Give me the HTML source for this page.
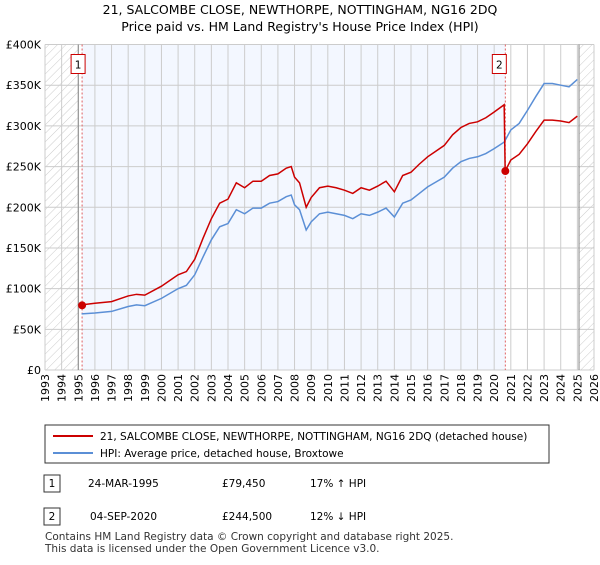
<!DOCTYPE html>
<html><head><meta charset="utf-8"><style>
body{margin:0;background:#fff;font-family:"Liberation Sans","DejaVu Sans",sans-serif;}
svg text{font-family:"DejaVu Sans","Liberation Sans",sans-serif;}
</style></head><body>
<svg width="600" height="560" viewBox="0 0 600 560">
<defs><pattern id="hatch" width="6" height="6" patternUnits="userSpaceOnUse" patternTransform="rotate(45)"><line x1="0" y1="0" x2="0" y2="6" stroke="#ccc" stroke-width="1"/></pattern></defs>
<text x="300" y="14" text-anchor="middle" font-size="12.5">21, SALCOMBE CLOSE, NEWTHORPE, NOTTINGHAM, NG16 2DQ</text>
<text x="300" y="31" text-anchor="middle" font-size="12.5">Price paid vs. HM Land Registry's House Price Index (HPI)</text>
<g id="plot"></g>
<g>
<rect x="45" y="425" width="504" height="38" fill="#fff" stroke="#333" stroke-width="1"/>
<line x1="53" y1="436" x2="93" y2="436" stroke="#cc0000" stroke-width="2"/>
<text x="100" y="440" font-size="10.5">21, SALCOMBE CLOSE, NEWTHORPE, NOTTINGHAM, NG16 2DQ (detached house)</text>
<line x1="53" y1="453" x2="93" y2="453" stroke="#5b8fd6" stroke-width="2"/>
<text x="100" y="457" font-size="10.5">HPI: Average price, detached house, Broxtowe</text>
</g>
<g>
<rect x="44" y="475" width="16" height="17" fill="#fff" stroke="#333"/>
<text x="52" y="487" text-anchor="middle" font-size="10.5">1</text>
<text x="88" y="487" font-size="10.5">24-MAR-1995</text>
<text x="222" y="487" font-size="10.5">£79,450</text>
<text x="310" y="487" font-size="10.5">17% ↑ HPI</text>
</g>
<g>
<rect x="44" y="508" width="16" height="17" fill="#fff" stroke="#333"/>
<text x="52" y="520" text-anchor="middle" font-size="10.5">2</text>
<text x="90" y="520" font-size="10.5">04-SEP-2020</text>
<text x="222" y="520" font-size="10.5">£244,500</text>
<text x="310" y="520" font-size="10.5">12% ↓ HPI</text>
</g>
<text x="45" y="540" font-size="10.5" fill="#333">Contains HM Land Registry data © Crown copyright and database right 2025.</text>
<text x="45" y="552" font-size="10.5" fill="#333">This data is licensed under the Open Government Licence v3.0.</text>
</svg>
<script>
const yearTicks=[1993,1994,1995,1996,1997,1998,1999,2000,2001,2002,2003,2004,2005,2006,2007,2008,2009,2010,2011,2012,2013,2014,2015,2016,2017,2018,2019,2020,2021,2022,2023,2024,2025,2026];
const valueTicks=[0,50,100,150,200,250,300,350,400];
const valueLabels=["£0","£50K","£100K","£150K","£200K","£250K","£300K","£350K","£400K"];
const hpiYears=[1995.2,1996,1997,1998,1998.5,1999,2000,2001,2001.5,2002,2002.5,2003,2003.5,2004,2004.5,2005,2005.5,2006,2006.5,2007,2007.5,2007.8,2008,2008.3,2008.7,2009,2009.5,2010,2010.5,2011,2011.5,2012,2012.5,2013,2013.5,2014,2014.5,2015,2015.5,2016,2016.5,2017,2017.5,2018,2018.5,2019,2019.5,2020,2020.6,2021,2021.5,2022,2022.5,2023,2023.5,2024,2024.5,2025];
const hpiValues=[69,70,72,78,80,79,88,100,104,117,139,160,176,180,197,192,199,199,205,207,213,215,203,197,172,182,192,194,192,190,186,192,190,194,199,188,205,209,217,225,231,237,248,256,260,262,266,272,280,295,303,319,336,352,352,350,348,357];
const priceYears=[1995.2,1996,1997,1998,1998.5,1999,2000,2001,2001.5,2002,2002.5,2003,2003.5,2004,2004.5,2005,2005.5,2006,2006.5,2007,2007.5,2007.8,2008,2008.3,2008.7,2009,2009.5,2010,2010.5,2011,2011.5,2012,2012.5,2013,2013.5,2014,2014.5,2015,2015.5,2016,2016.5,2017,2017.5,2018,2018.5,2019,2019.5,2020,2020.6,2020.66,2021,2021.5,2022,2022.5,2023,2023.5,2024,2024.5,2025];
const priceValues=[80,82,84,91,93,92,103,117,121,136,162,186,205,210,230,224,232,232,239,241,248,250,237,230,200,212,224,226,224,221,217,224,221,226,232,219,239,243,253,262,269,276,289,298,303,305,310,317,326,244.5,258,265,278,293,307,307,306,304,312];
const saleYears=[1995.23,2020.67];
const saleValues=[79.45,244.5];
const saleLabels=["1","2"];

const L=45,R=594,T=44.5,B=370,X0=1993,X1=2026,VMAX=400;
const xs=y=>L+(y-X0)/(X1-X0)*(R-L);
const ys=v=>B-v/VMAX*(B-T);
const NS="http://www.w3.org/2000/svg";
const g=document.getElementById('plot');
function mk(t,a){const e=document.createElementNS(NS,t);for(const k in a)e.setAttribute(k,a[k]);g.appendChild(e);return e;}
let e;
e=mk('rect',{x:L,y:T,width:R-L,height:B-T,fill:'#fff'});


e=mk('rect',{x:xs(saleYears[0]),y:T,width:xs(saleYears[1])-xs(saleYears[0]),height:B-T,fill:'#f3f7ff'});


e=mk('rect',{x:L,y:T,width:xs(1995)-L,height:B-T,fill:'url(#hatch)'});


e=mk('rect',{x:xs(2025.1),y:T,width:R-xs(2025.1),height:B-T,fill:'url(#hatch)'});


yearTicks.forEach(y=>{
 e=mk('line',{x1:xs(y),x2:xs(y),y1:T,y2:B,stroke:'#ccc','stroke-width':1});
 
 
 const tx=xs(y)+4;
 e=mk('text',{x:0,y:0,transform:`translate(${tx},${B+4}) rotate(-90)`,'text-anchor':'end','font-size':11});
 e.textContent=y;
 
 
});
valueTicks.forEach((v,i)=>{
 e=mk('line',{x1:L,x2:R,y1:ys(v),y2:ys(v),stroke:'#ccc','stroke-width':1});
 
 
 e=mk('text',{x:L-4,y:ys(v)+4,'text-anchor':'end','font-size':11});
 e.textContent=valueLabels[i];
 
 
});
[1995,2025.1].forEach(y=>{
 e=mk('line',{x1:xs(y),x2:xs(y),y1:T,y2:B,stroke:'#888','stroke-width':1});
 
 
});
saleYears.forEach(y=>{
 e=mk('line',{x1:xs(y),x2:xs(y),y1:T,y2:B,stroke:'#e06060','stroke-width':1,'stroke-dasharray':'2,2'});
 
 
});
e=mk('polyline',{points:hpiYears.map((y,i)=>xs(y)+','+ys(hpiValues[i])).join(' '),fill:'none',stroke:'#5b8fd6','stroke-width':1.5});


e=mk('polyline',{points:priceYears.map((y,i)=>xs(y)+','+ys(priceValues[i])).join(' '),fill:'none',stroke:'#cc0000','stroke-width':1.5});


saleYears.forEach((y,i)=>{
 e=mk('circle',{cx:xs(y),cy:ys(saleValues[i]),r:4,fill:'#cc0000'});
 
 
 const bx=xs(y)-(i==0?11:13);
 e=mk('rect',{x:bx,y:T+10,width:14,height:19,fill:'#fff',stroke:'#cc0000','stroke-width':1});
 
 
 e=mk('text',{x:bx+7,y:T+24,'text-anchor':'middle','font-size':10.5});
 e.textContent=saleLabels[i];
 
 
});
</script>
</body></html>
